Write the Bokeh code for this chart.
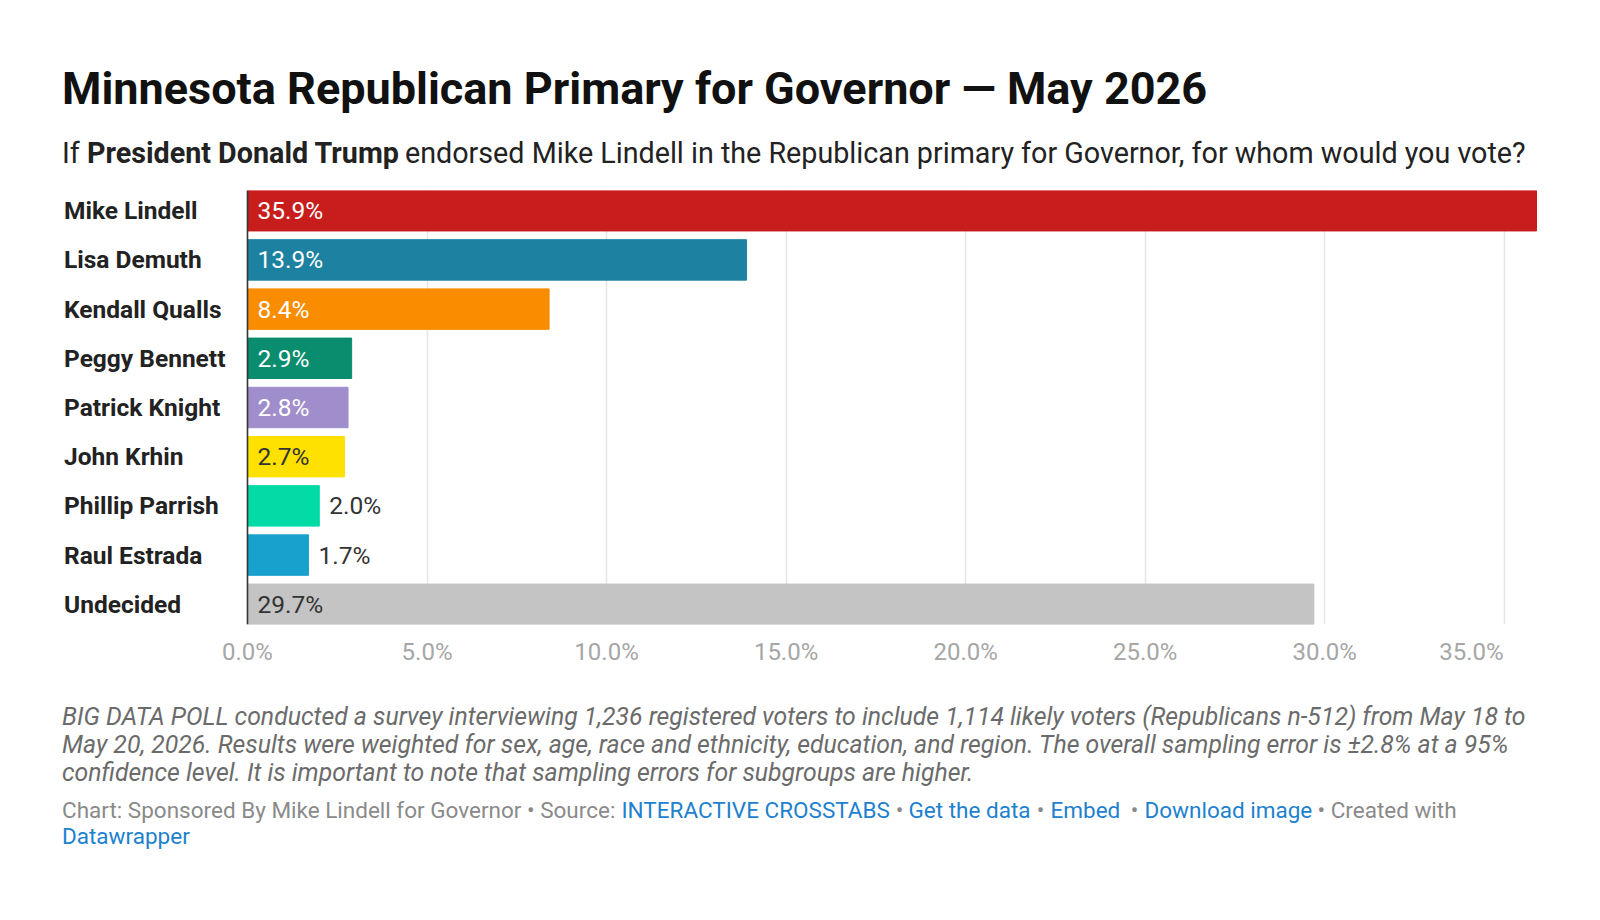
from bokeh.plotting import figure
from bokeh.layouts import column
from bokeh.models import (ColumnDataSource, Range1d, FixedTicker, LabelSet, Label, Span)
from bokeh.core.properties import value
from bokeh.embed import file_html
from bokeh.resources import INLINE

# ---------------- data ----------------
candidates = ["Mike Lindell", "Lisa Demuth", "Kendall Qualls", "Peggy Bennett",
              "Patrick Knight", "John Krhin", "Phillip Parrish", "Raul Estrada", "Undecided"]
values = [35.9, 13.9, 8.4, 2.9, 2.8, 2.7, 2.0, 1.7, 29.7]
bar_colors = ["#c71e1d", "#1d81a2", "#fa8c00", "#0a8c6e", "#a08dcb",
              "#ffe100", "#03dba7", "#18a1cd", "#c4c4c4"]
tick_values = [0, 5, 10, 15, 20, 25, 30, 35]
tick_labels = ["0.0%", "5.0%", "10.0%", "15.0%", "20.0%", "25.0%", "30.0%", "35.0%"]

title_text = "Minnesota Republican Primary for Governor \u2014 May 2026"
subtitle_parts = ["If", "President Donald Trump",
                  "endorsed Mike Lindell in the Republican primary for Governor, for whom would you vote?"]
notes_lines = [
    "BIG DATA POLL conducted a survey interviewing 1,236 registered voters to include 1,114 likely voters (Republicans n-512) from May 18 to",
    "May 20, 2026. Results were weighted for sex, age, race and ethnicity, education, and region. The overall sampling error is \u00b12.8% at a 95%",
    "confidence level. It is important to note that sampling errors for subgroups are higher.",
]

# ---------------- layout constants ----------------
W = 1600
HEAD_H = 190            # header band (title + subtitle)
FL, FR = 247, 1536      # zero line and end of the longest bar (canvas px)
PLOT_H = 434            # bar area height
AXIS_H = 50             # space for tick labels
FOOT_H = 920 - HEAD_H - PLOT_H - AXIS_H
FONT = "Roboto"
LX = 61.5               # left text margin


def make_band(height, y0):
    f = figure(width=W, height=height, output_backend="svg", toolbar_location=None,
               x_range=Range1d(0, W), y_range=Range1d(y0 + height, y0),
               min_border=0, min_border_left=0, min_border_right=0,
               min_border_top=0, min_border_bottom=0)
    f.axis.visible = False
    f.grid.visible = False
    f.outline_line_color = None
    f.background_fill_color = "white"
    f.border_fill_color = "white"
    return f


def add_text(f, txt, cx, cy, size, color="#222222", style="normal", align="left"):
    # cy is the visual centre of the line
    f.add_layout(Label(x=cx, y=cy, text=txt, text_font=FONT, text_font_size=size,
                       text_font_style=style, text_color=color, text_align=align,
                       text_baseline="alphabetic"))


# ---------------- header ----------------
head = make_band(HEAD_H, 0)
add_text(head, title_text, LX, 88, "45px", "#111111", "bold")
add_text(head, subtitle_parts[0], LX, 152, "28.7px", "#222222")
add_text(head, subtitle_parts[1], 86.5, 152, "28.7px", "#222222", "bold")
add_text(head, subtitle_parts[2], 404.5, 152, "28.7px", "#222222")

# ---------------- main chart ----------------
n = len(candidates)
ys = list(range(n))
inside = [v >= 2.5 for v in values]
dark_text = {"John Krhin", "Undecided"}
label_x = [0 if ins else v for v, ins in zip(values, inside)]
label_col = [("#333333" if (c in dark_text or not ins) else "#ffffff")
             for c, ins in zip(candidates, inside)]
src = ColumnDataSource(dict(
    y=ys, value=values, color=bar_colors, name=candidates,
    lx=label_x, lcol=label_col, text=[f"{v:.1f}%" for v in values],
    zero=[0] * n,
))

xmax = max(values)
px_per_unit = (FR - FL) / xmax
bar_h = 0.822
p = figure(width=W, height=PLOT_H + AXIS_H, output_backend="svg", toolbar_location=None,
           x_range=Range1d(-FL / px_per_unit, xmax + (W - FR) / px_per_unit),
           y_range=Range1d(n - 1 + bar_h / 2, -bar_h / 2),
           min_border_left=0, min_border_right=0,
           min_border_top=0, min_border_bottom=AXIS_H)
p.outline_line_color = None
p.background_fill_color = "white"
p.border_fill_color = "white"

p.hbar(y="y", right="value", left=0, height=bar_h, color="color", source=src)

p.yaxis.visible = False
p.ygrid.visible = False
xa = p.xaxis[0]
xa.ticker = FixedTicker(ticks=tick_values)
overrides = dict(zip(tick_values, tick_labels))
# last label sits right-aligned on its gridline (padded with no-break spaces)
overrides[tick_values[-1]] = tick_labels[-1] + "\u00a0" * 11
xa.major_label_overrides = overrides
xa.axis_line_color = None
xa.major_tick_line_color = None
xa.minor_tick_line_color = None
xa.major_tick_out = 0
xa.major_tick_in = 0
xa.major_label_standoff = 13
xa.major_label_text_font = FONT
xa.major_label_text_font_size = "24px"
xa.major_label_text_color = "#a6a6a6"
p.xgrid.ticker = FixedTicker(ticks=tick_values[1:])
p.xgrid.grid_line_color = "#e6e6e6"
p.xgrid.grid_line_width = 1.6

p.add_layout(Span(location=0, dimension="height", line_color="#333333", line_width=1.6))

p.add_layout(LabelSet(x="zero", y="y", text="name", source=src, x_offset=-(FL - 63.5),
                      text_font=value(FONT), text_font_style="bold", text_font_size="24.5px",
                      text_color="#222222", text_align="left", text_baseline="middle"))
p.add_layout(LabelSet(x="lx", y="y", text="text", source=src, x_offset=10,
                      text_font=value(FONT), text_font_size="24.5px", text_color="lcol",
                      text_align="left", text_baseline="middle"))

# ---------------- footer ----------------
y0 = HEAD_H + PLOT_H + AXIS_H
foot = make_band(FOOT_H, y0)
for i, line in enumerate(notes_lines):
    add_text(foot, line, LX, 716.3 + i * 27.6, "24.8px", "#6b6b6b", "italic")

GRAY, BLUE = "#8a8a8a", "#1d81cf"
fy = 809.2
FS = "22.5px"
add_text(foot, "Chart: Sponsored By Mike Lindell for Governor \u2022 Source:", LX, fy, FS, GRAY)
add_text(foot, "INTERACTIVE CROSSTABS", 621, fy, FS, BLUE)
add_text(foot, "\u2022", 899, fy, FS, GRAY, align="center")
add_text(foot, "Get the data", 908, fy, FS, BLUE)
add_text(foot, "\u2022", 1040, fy, FS, GRAY, align="center")
add_text(foot, "Embed", 1050, fy, FS, BLUE)
add_text(foot, "\u2022", 1134, fy, FS, GRAY, align="center")
add_text(foot, "Download image", 1144, fy, FS, BLUE)
add_text(foot, "\u2022 Created with", 1317, fy, FS, GRAY)
add_text(foot, "Datawrapper", LX, fy + 26.5, FS, BLUE)

layout = column(head, p, foot, spacing=0)
open("out.html", "w").write(file_html(layout, INLINE))
